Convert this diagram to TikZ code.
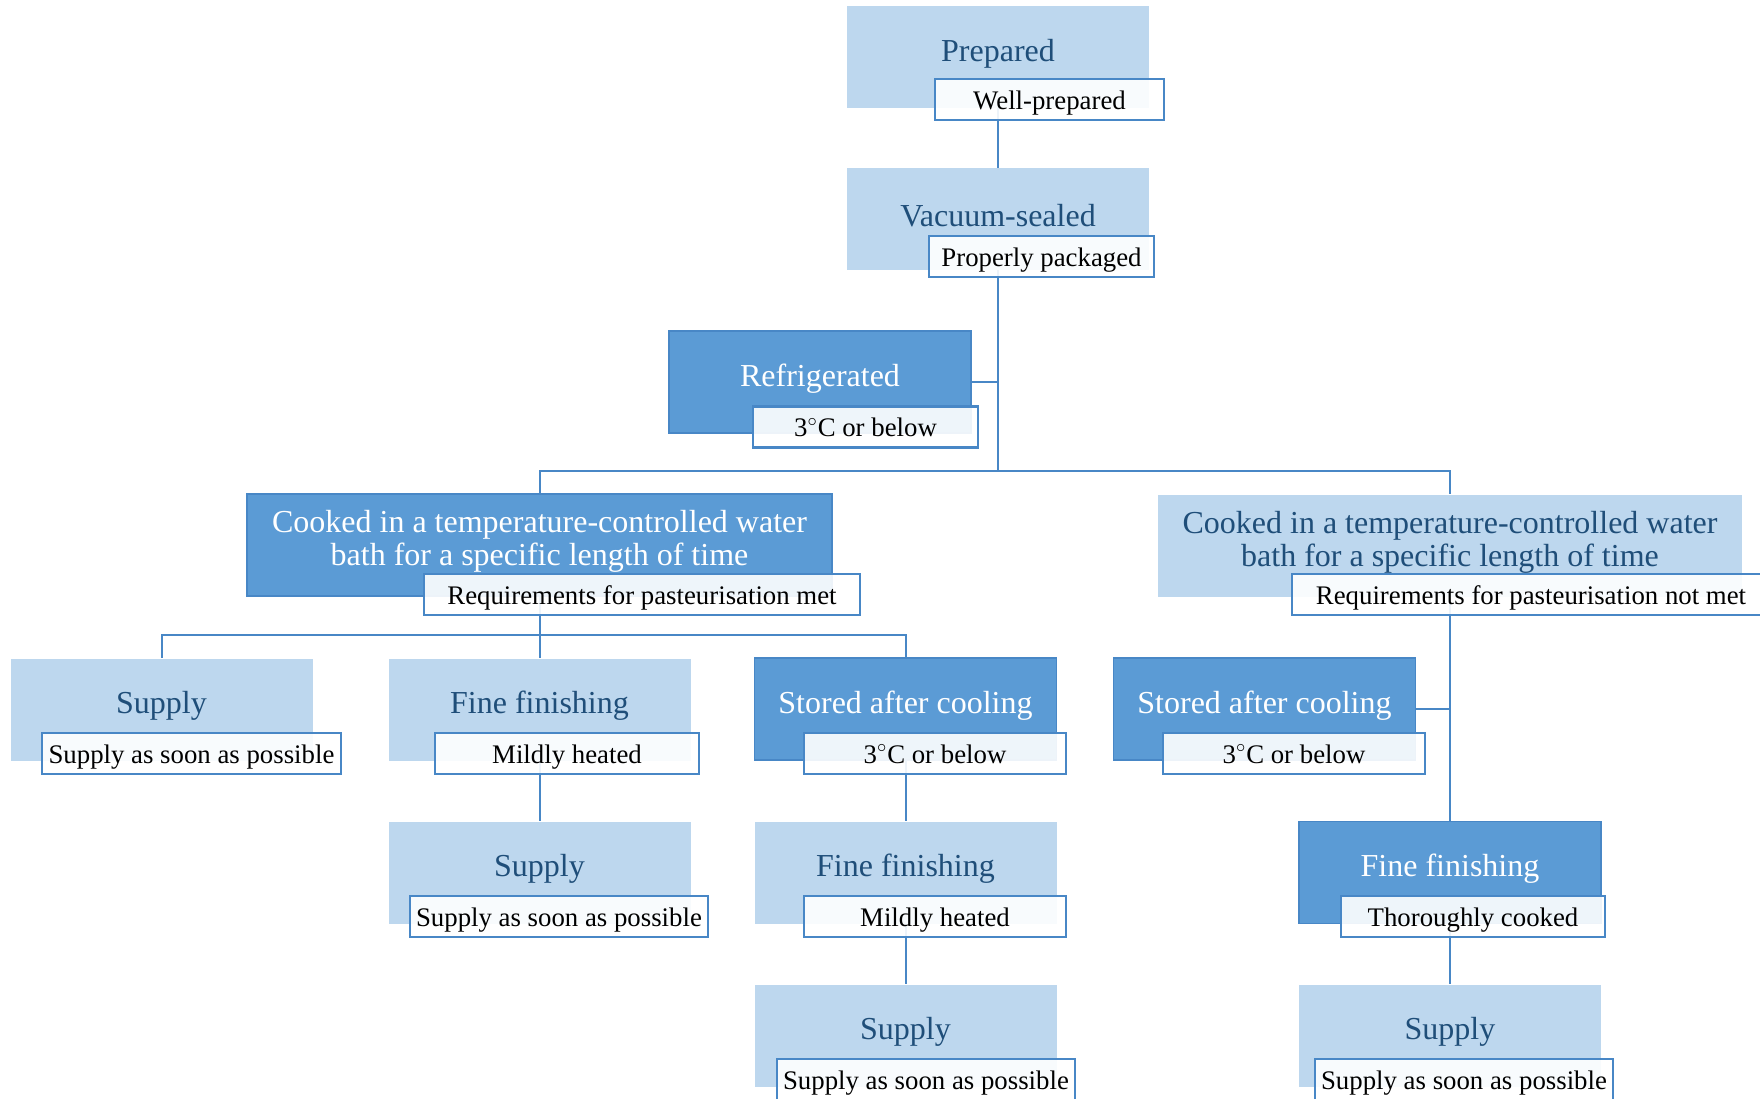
\documentclass[tikz,border=0pt]{standalone}
\usepackage{fontspec}
\setmainfont{Liberation Serif}
\usetikzlibrary{backgrounds}

\definecolor{paleblue}{RGB}{189,215,238}
\definecolor{midblue}{RGB}{91,155,213}
\definecolor{edgeblue}{RGB}{72,135,198}
\definecolor{inkblue}{RGB}{31,78,121}

\tikzset{
  stagelight/.style={fill=paleblue, inner sep=0pt, minimum height=51pt},
  stagedark/.style={fill=midblue, draw=edgeblue, line width=0.8pt, inner sep=0pt, minimum height=51pt},
  ttl/.style={font=\fontsize{16}{16.3}\selectfont, align=center, inner sep=0pt},
  tag/.style={draw=edgeblue, line width=1.2pt, fill=white, fill opacity=0.9, text opacity=1,
    minimum height=20.5pt, inner sep=0pt, text height=12.6pt, text depth=2.8pt,
    font=\fontsize{13.4}{15}\selectfont},
  link/.style={draw=edgeblue, line width=1pt},
}

\begin{document}
\begin{tikzpicture}[x=0.5pt,y=-0.5pt]
        \useasboundingbox (0,0) rectangle (1760,1098);
        \clip (0,0) rectangle (1760,1098);

        % stages: box, title and tag below it
        \foreach \nm/\x/\y/\bw/\s/\tc/\ttl/\lab/\lx/\ly/\lw in {
            prep/998/57/151/stagelight/inkblue/Prepared/Well-prepared/1049.5/99.5/114.5,
            vac/998/219/151/stagelight/inkblue/Vacuum-sealed/Properly packaged/1041.5/256.5/112.5,
            refr/820/382/151/stagedark/white/Refrigerated/3$^\circ$C or below/865.5/427/112.5,
            cookL/539.5/545/292.5/stagedark/white/{Cooked in a temperature-controlled water\\bath for a specific length of time}/Requirements for pasteurisation met/642/594.5/218,
            cookR/1450/545.5/292/stagelight/inkblue/{Cooked in a temperature-controlled water\\bath for a specific length of time}/Requirements for pasteurisation not met/1531/594.5/239,
            supA/161.5/709.5/151/stagelight/inkblue/Supply/Supply as soon as possible/191.5/753.5/149.5,
            finA/539.5/709.5/151/stagelight/inkblue/Fine finishing/Mildly heated/567/753.5/132,
            stoA/905.5/709/151/stagedark/white/Stored after cooling/3$^\circ$C or below/935/753.5/131,
            stoR/1264.5/709/151/stagedark/white/Stored after cooling/3$^\circ$C or below/1294/753.5/131,
            supB/539.5/872.5/151/stagelight/inkblue/Supply/Supply as soon as possible/559/916.5/149,
            finB/905.5/872.5/151/stagelight/inkblue/Fine finishing/Mildly heated/935/916.5/131,
            finR/1450/872.5/151/stagedark/white/Fine finishing/Thoroughly cooked/1473/916.5/132,
            supC/905.5/1035.5/151/stagelight/inkblue/Supply/Supply as soon as possible/926/1079.5/149,
            supR/1450/1035.5/151/stagelight/inkblue/Supply/Supply as soon as possible/1464/1079.5/149}
        {
                \node[\s, minimum width=\bw pt] (\nm) at (\x,\y) {};
                \node[ttl, text=\tc] (\nm-t) at ([yshift=1.7pt]\nm.center) {\ttl};
                \node[tag, minimum width=\lw pt] (\nm-l) at (\lx,\ly) {\lab};
        }

        % branch points
        \coordinate (trunk) at (998,471);
        \coordinate (fork) at (539.5,635);

        % connectors behind the boxes
        \begin{scope}[on background layer]
                \draw[link] (prep.south) -- (vac.north);
                \draw[link] (vac.south) -- (trunk);
                \draw[link] (refr.east) -- (refr.east -| vac.south);
                \draw[link] (cookL.north) |- (trunk) -| (cookR.north);
                \draw[link] (cookL.south) -- (finA.north);
                \draw[link] (supA.north) |- (fork) -| (stoA.north);
                \draw[link] (finA.south) -- (supB.north);
                \draw[link] (stoA.south) -- (finB.north);
                \draw[link] (finB.south) -- (supC.north);
                \draw[link] (cookR.south) -- (finR.north);
                \draw[link] (stoR.east) -- (stoR.east -| cookR.south);
                \draw[link] (finR.south) -- (supR.north);
        \end{scope}
\end{tikzpicture}
\end{document}
